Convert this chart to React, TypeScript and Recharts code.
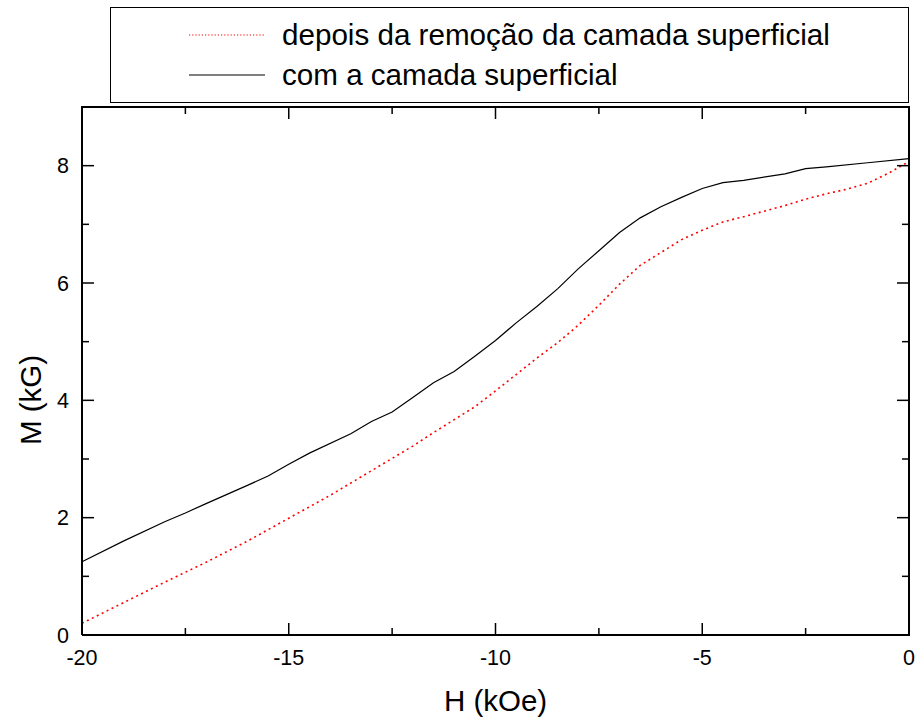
import React from 'react';
import { LineChart, Line, XAxis, YAxis, Legend } from 'recharts';

// H (kOe) and M (kG) for "com a camada superficial" (solid black)
const hWith = [-20, -19, -18, -17.5, -17, -16, -15.5, -15, -14.5, -13.5, -13, -12.5, -12, -11.5, -11, -10.5, -10, -9.5, -9, -8.5, -8, -7.5, -7, -6.5, -6, -5.5, -5, -4.5, -4, -3, -2.5, -2, -1, 0];
const mWith = [1.25, 1.6, 1.93, 2.08, 2.24, 2.55, 2.71, 2.91, 3.1, 3.43, 3.64, 3.8, 4.05, 4.3, 4.49, 4.75, 5.02, 5.32, 5.6, 5.9, 6.24, 6.55, 6.86, 7.11, 7.3, 7.46, 7.61, 7.71, 7.75, 7.86, 7.95, 7.98, 8.05, 8.12];

// H (kOe) and M (kG) for "depois da remoção da camada superficial" (red dotted)
const hAfter = [-20, -19, -18, -17.5, -17, -16, -15, -14, -13, -12, -11.5, -11, -10.5, -10, -9.5, -9, -8.5, -8, -7.5, -7, -6.5, -6, -5.5, -5, -4.5, -4, -3, -2.5, -2, -1.5, -1, -0.5, 0];
const mAfter = [0.2, 0.55, 0.9, 1.07, 1.24, 1.6, 1.99, 2.38, 2.8, 3.22, 3.45, 3.67, 3.89, 4.16, 4.44, 4.72, 4.98, 5.28, 5.62, 5.98, 6.3, 6.52, 6.74, 6.9, 7.04, 7.13, 7.32, 7.43, 7.52, 7.6, 7.7, 7.87, 8.07];

const xTicks = [-20, -17.5, -15, -12.5, -10, -7.5, -5, -2.5, 0];
const yTicks = [0, 1, 2, 3, 4, 5, 6, 7, 8];
const xMajor = [-20, -15, -10, -5, 0];
const yMajor = [0, 2, 4, 6, 8];
const X_MIN = -20;
const X_MAX = 0;
const Y_MIN = 0;
const Y_MAX = 9;

const labelAfter = 'depois da remoção da camada superficial';
const labelWith = 'com a camada superficial';
const xTitle = 'H (kOe)';
const yTitle = 'M (kG)';

const dataWith = hWith.map((h, i) => ({ h, m: mWith[i] }));
const dataAfter = hAfter.map((h, i) => ({ h, m: mAfter[i] }));

const FONT = '"Liberation Sans", Arial, Helvetica, sans-serif';
const RED_DASH = '2 3.5';

// layout
const CHART_W = 917;
const CHART_H = 720;
const M_TOP = 107;
const M_RIGHT = 8;
const Y_AXIS_W = 82;
const X_AXIS_H = 85;
const PLOT_W = CHART_W - M_RIGHT - Y_AXIS_W;
const PLOT_H = CHART_H - M_TOP - X_AXIS_H;

const XTick = (props: any) => {
  const { x, y, payload } = props;
  const v = payload.value;
  const major = xMajor.includes(v);
  const len = major ? 12 : 7;
  const yTop = y - PLOT_H;
  return (
    <g>
      <line x1={x} x2={x} y1={y} y2={y - len} stroke="#000" strokeWidth={1.5} />
      <line x1={x} x2={x} y1={yTop} y2={yTop + len} stroke="#000" strokeWidth={1.5} />
      {v === X_MAX ? <line x1={x} x2={x} y1={y + 1} y2={yTop - 1} stroke="#000" strokeWidth={2} /> : null}
      {v === X_MIN ? <line x1={x - 1} x2={x + PLOT_W + 1} y1={yTop} y2={yTop} stroke="#000" strokeWidth={2} /> : null}
      {major ? (
        <text x={x} y={y + 30} textAnchor="middle" fontSize={21.5} fontFamily={FONT} fill="#000">
          {v}
        </text>
      ) : null}
    </g>
  );
};

const YTick = (props: any) => {
  const { x, y, payload } = props;
  const major = yMajor.includes(payload.value);
  const len = major ? 12 : 7;
  const xRight = x + PLOT_W;
  return (
    <g>
      <line x1={x} x2={x + len} y1={y} y2={y} stroke="#000" strokeWidth={1.5} />
      <line x1={xRight} x2={xRight - len} y1={y} y2={y} stroke="#000" strokeWidth={1.5} />
      {major ? (
        <text x={x - 13} y={y} dy="0.35em" textAnchor="end" fontSize={21.5} fontFamily={FONT} fill="#000">
          {payload.value}
        </text>
      ) : null}
    </g>
  );
};

const LegendBox = () => (
  <svg width={800} height={97} style={{ display: 'block' }}>
    <rect x={0.5} y={0.5} width={798} height={95} fill="#fff" stroke="#000" strokeWidth={1} />
    <line x1={79} x2={155} y1={28} y2={28} stroke="#ff0000" strokeWidth={1.2} strokeDasharray="1.2 2" />
    <text x={172} y={38} fontSize={29.6} fontFamily={FONT} fill="#000">{labelAfter}</text>
    <line x1={79} x2={155} y1={68} y2={68} stroke="#000" strokeWidth={1.2} />
    <text x={172} y={78} fontSize={29.6} fontFamily={FONT} fill="#000">{labelWith}</text>
  </svg>
);

export default function App() {
  return (
    <div style={{ position: 'absolute', left: 0, top: 0, width: CHART_W, height: CHART_H, background: '#fff' }}>
      <LineChart
        width={CHART_W}
        height={CHART_H}
        margin={{ top: M_TOP, right: M_RIGHT, bottom: 0, left: 0 }}
        style={{ fontFamily: FONT }}
      >
        <XAxis
          xAxisId="b"
          dataKey="h"
          type="number"
          domain={[X_MIN, X_MAX]}
          ticks={xTicks}
          interval={0}
          height={X_AXIS_H}
          tickLine={false}
          tickSize={0}
          tickMargin={0}
          axisLine={{ stroke: '#000', strokeWidth: 2 }}
          tick={(p: any) => <XTick {...p} />}
          label={(p: any) => {
            const vb = p.viewBox;
            return (
              <text x={vb.x + vb.width / 2} y={vb.y + 76} textAnchor="middle" fontSize={29.5} fontFamily={FONT} fill="#000">
                {xTitle}
              </text>
            );
          }}
        />
        <YAxis
          yAxisId="l"
          type="number"
          domain={[Y_MIN, Y_MAX]}
          ticks={yTicks}
          interval={0}
          width={Y_AXIS_W}
          tickLine={false}
          tickSize={0}
          tickMargin={0}
          axisLine={{ stroke: '#000', strokeWidth: 2 }}
          tick={(p: any) => <YTick {...p} />}
          label={(p: any) => {
            const vb = p.viewBox;
            const cx = 41;
            const cy = vb.y + vb.height / 2 + 29;
            return (
              <text x={cx} y={cy} transform={`rotate(-90, ${cx}, ${cy})`} textAnchor="middle" fontSize={29.5} fontFamily={FONT} fill="#000">
                {yTitle}
              </text>
            );
          }}
        />
        <Legend
          layout="vertical"
          align="center"
          verticalAlign="middle"
          content={() => <LegendBox />}
          wrapperStyle={{ top: 7, left: 110, width: 800, height: 97 }}
        />
        <Line
          xAxisId="b"
          yAxisId="l"
          data={dataAfter}
          dataKey="m"
          type="linear"
          stroke="#ff0000"
          strokeWidth={1.6}
          strokeDasharray={RED_DASH}
          dot={false}
          activeDot={false}
          isAnimationActive={false}
          name={labelAfter}
        />
        <Line
          xAxisId="b"
          yAxisId="l"
          data={dataWith}
          dataKey="m"
          type="linear"
          stroke="#000"
          strokeWidth={1.2}
          dot={false}
          activeDot={false}
          isAnimationActive={false}
          name={labelWith}
        />
      </LineChart>
    </div>
  );
}
